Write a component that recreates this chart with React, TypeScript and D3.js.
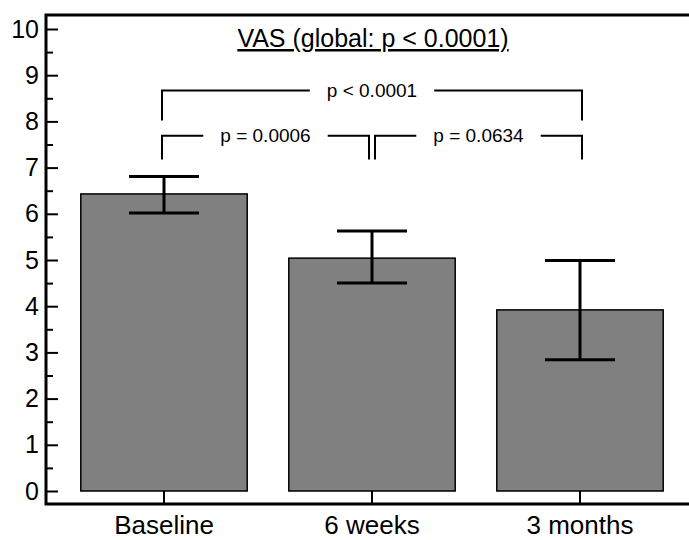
import { useEffect, useMemo, useRef } from "react";
import * as d3 from "d3";

const width = 689;
const height = 540;
const axisX = 46;
const axisBottomY = 504;
const frameTopY = 15;
const font = "'Liberation Sans', Arial, Helvetica, sans-serif";

// data
const categories = ["Baseline", "6 weeks", "3 months"];
const means = [6.43, 5.04, 3.92];
const upper = [6.81, 5.63, 4.99];
const lower = [6.02, 4.5, 2.84];
const yTicks = [0, 1, 2, 3, 4, 5, 6, 7, 8, 9, 10];
const title = "VAS (global: p < 0.0001)";
const comparisons = [
  { from: 0, to: 2, label: "p < 0.0001", level: 1 },
  { from: 0, to: 1, label: "p = 0.0006", level: 0 },
  { from: 1, to: 2, label: "p = 0.0634", level: 0 },
];

const App = () => {
  const yAxisRef = useRef(null);
  const yMinorRef = useRef(null);
  const xAxisRef = useRef(null);

  const { xScale, yScale } = useMemo(() => {
    const xScale = d3
      .scaleBand()
      .domain(categories)
      .range([60, 684])
      .paddingInner(0.2)
      .paddingOuter(0.1);
    const yScale = d3.scaleLinear().domain([0, 10]).range([491, 29]);
    return { xScale, yScale };
  }, []);

  useEffect(() => {
    if (yAxisRef.current) {
      const yAxis = d3
        .axisLeft(yScale)
        .tickValues(yTicks)
        .tickFormat(d3.format("d"))
        .tickSizeInner(-12)
        .tickSizeOuter(0)
        .tickPadding(7);
      const g = d3.select<SVGGElement, unknown>(yAxisRef.current).call(yAxis);
      g.select(".domain").remove();
      g.selectAll("line").attr("stroke", "#000").attr("stroke-width", 2);
      g.selectAll("text")
        .attr("fill", "#000")
        .style("font-family", font)
        .style("font-size", "25px");
    }
    if (yMinorRef.current) {
      const minor = d3
        .axisLeft(yScale)
        .tickValues(yTicks.slice(0, -1).map((t) => t + 0.5))
        .tickFormat(() => "")
        .tickSizeInner(-7)
        .tickSizeOuter(0);
      const g = d3.select<SVGGElement, unknown>(yMinorRef.current).call(minor);
      g.select(".domain").remove();
      g.selectAll("line").attr("stroke", "#000").attr("stroke-width", 2);
    }
    if (xAxisRef.current) {
      const xAxis = d3
        .axisBottom(xScale)
        .tickSizeInner(-13)
        .tickSizeOuter(0)
        .tickPadding(11.5);
      const g = d3.select<SVGGElement, unknown>(xAxisRef.current).call(xAxis);
      g.select(".domain").remove();
      g.selectAll("line").attr("stroke", "#000").attr("stroke-width", 2);
      g.selectAll("text")
        .attr("fill", "#000")
        .style("font-family", font)
        .style("font-size", "26px");
    }
  }, [xScale, yScale]);

  const center = (i: number) => (xScale(categories[i]) ?? 0) + xScale.bandwidth() / 2;
  const capHalf = 35;

  // bracket rows: level 1 on top, level 0 below
  const bracketY = [135.7, 90.5];
  const legBottom = [159.5, 120.5];
  const pFont = 19;

  return (
    <svg
      width={width}
      height={height}
      style={{ position: "absolute", left: 0, top: 0, background: "#fff" }}
    >
      <text
        x={373}
        y={47}
        textAnchor="middle"
        fontFamily={font}
        fontSize={25}
        textDecoration="underline"
        fill="#000"
      >
        {title}
      </text>

      {categories.map((c, i) => {
        const x0 = xScale(c) ?? 0;
        return (
          <rect
            key={c}
            x={x0}
            y={yScale(means[i])}
            width={xScale.bandwidth()}
            height={yScale(0) - yScale(means[i])}
            fill="#808080"
            stroke="#000"
            strokeWidth={1.5}
          />
        );
      })}

      {categories.map((c, i) => {
        const cx = center(i);
        return (
          <g key={c} stroke="#000" strokeWidth={3}>
            <line x1={cx} x2={cx} y1={yScale(upper[i])} y2={yScale(lower[i])} />
            <line x1={cx - capHalf} x2={cx + capHalf} y1={yScale(upper[i])} y2={yScale(upper[i])} />
            <line x1={cx - capHalf} x2={cx + capHalf} y1={yScale(lower[i])} y2={yScale(lower[i])} />
          </g>
        );
      })}

      {comparisons.map((cmp, k) => {
        let xa = center(cmp.from) - 2;
        let xb = center(cmp.to) + 2;
        if (cmp.level === 0) {
          if (cmp.from === 1) xa = center(cmp.from) + 3;
          if (cmp.to === 1) xb = center(cmp.to) - 3;
        }
        const y = bracketY[cmp.level];
        const yb = legBottom[cmp.level];
        const mid = (xa + xb) / 2;
        const halfGap = cmp.label.length * pFont * 0.28 + 9;
        return (
          <g key={k}>
            <path
              d={`M${xa},${yb}V${y}H${mid - halfGap}M${mid + halfGap},${y}H${xb}V${yb}`}
              fill="none"
              stroke="#000"
              strokeWidth={2}
            />
            <text
              x={mid}
              y={y + pFont * 0.35}
              textAnchor="middle"
              fontFamily={font}
              fontSize={pFont}
              fill="#000"
            >
              {cmp.label}
            </text>
          </g>
        );
      })}

      <g ref={yMinorRef} transform={`translate(${axisX}, 0)`} />
      <g ref={yAxisRef} transform={`translate(${axisX}, 0)`} />
      <g ref={xAxisRef} transform={`translate(0, ${axisBottomY})`} />

      <path
        d={`M${width},${frameTopY}H${axisX}V${axisBottomY}H${width}`}
        fill="none"
        stroke="#000"
        strokeWidth={3}
      />
    </svg>
  );
};

export default App;
